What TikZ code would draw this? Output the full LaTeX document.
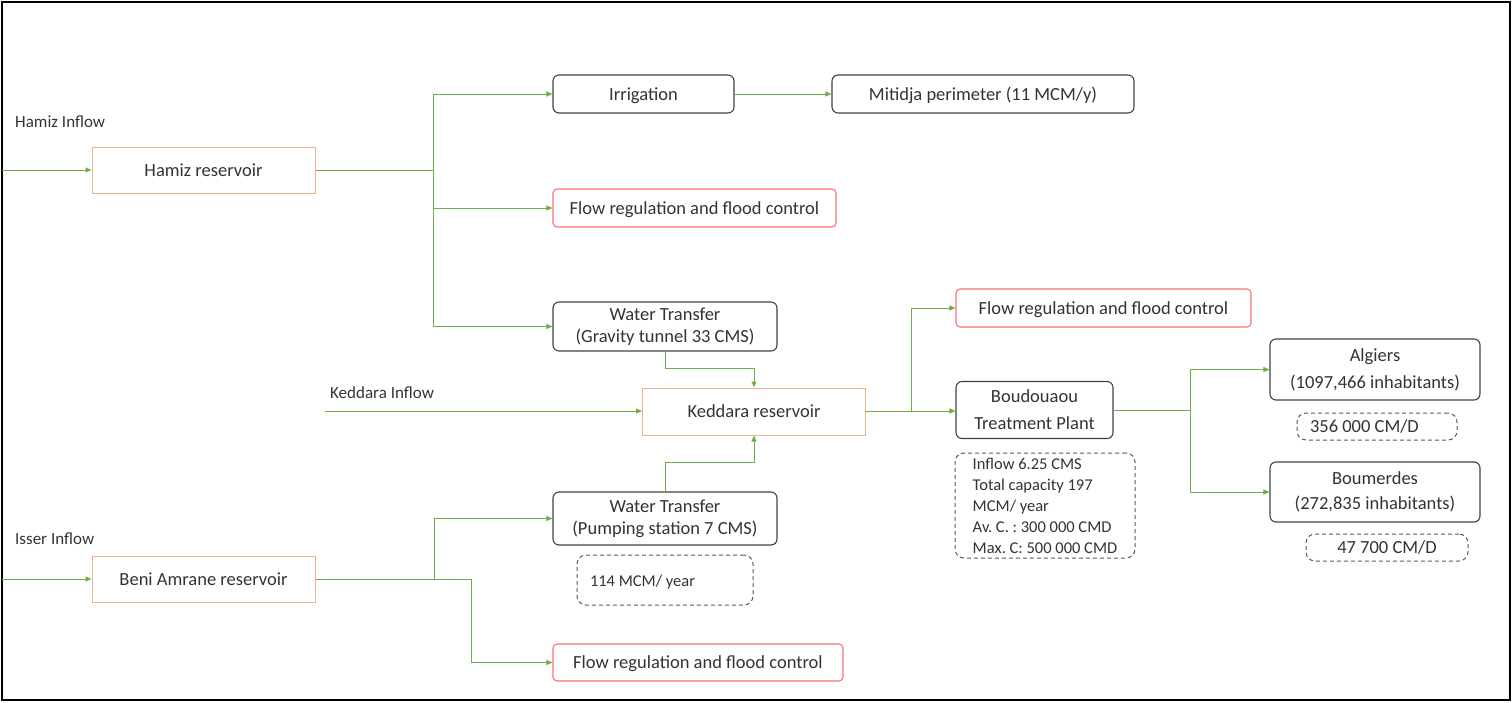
\documentclass[tikz,border=0pt]{standalone}
\usepackage{fontspec}
\setmainfont{Carlito}
\usetikzlibrary{arrows.meta}
\definecolor{flowgreen}{HTML}{70AD47}
\definecolor{resorange}{HTML}{F4B183}
\definecolor{regred}{HTML}{FF6F7A}
\definecolor{boxgray}{HTML}{404040}
\definecolor{dashgray}{HTML}{595959}
\tikzset{
  x=1pt, y=-1pt,
  every node/.style={font=\fontsize{18.5}{24}\selectfont\frenchspacing, text=black!80, inner sep=0pt, align=center},
  oneline/.style={text height=14pt, text depth=2pt},
  resbox/.style={draw=resorange, line width=1pt, rectangle, oneline},
  usebox/.style={draw=boxgray, line width=1.1pt, rounded corners=6pt},
  regbox/.style={draw=regred, line width=1.1pt, rounded corners=4pt, oneline},
  notebox/.style={draw=dashgray, line width=1pt, dashed, dash pattern=on 4pt off 3pt, rounded corners=9pt},
  flow/.style={draw=flowgreen, line width=1pt, -{Triangle[length=6pt,width=5pt]}},
  plainflow/.style={draw=flowgreen, line width=1pt},
  inlabel/.style={font=\fontsize{17}{20}\selectfont, anchor=west},
}
\begin{document}
\begin{tikzpicture}
\useasboundingbox (0,0) rectangle (1512,702);
\draw[line width=2pt, black] (2,2) rectangle (1510,700);

% nodes
\node[resbox, minimum width=223pt, minimum height=46pt] (hres) at (203.5,170) {Hamiz reservoir};
\node[usebox, oneline, minimum width=181pt, minimum height=38pt] (irr) at (643.5,94) {Irrigation};
\node[usebox, oneline, minimum width=302pt, minimum height=38pt] (mit) at (983,94) {Mitidja perimeter (11 MCM/y)};
\node[regbox, minimum width=283pt, minimum height=38pt] (fr1) at (694.5,208) {Flow regulation and flood control};
\node[usebox, minimum width=224pt, minimum height=49pt, font=\fontsize{18.5}{22}\selectfont] (wtg) at (665,326.5) {Water Transfer\\(Gravity tunnel 33 CMS)};
\node[resbox, minimum width=223pt, minimum height=47pt] (ked) at (754,411.5) {Keddara reservoir};
\node[regbox, minimum width=295pt, minimum height=38pt] (fr2) at (1103.5,308) {Flow regulation and flood control};
\node[usebox, minimum width=157pt, minimum height=57pt, font=\fontsize{18.5}{27}\selectfont] (bou) at (1034.5,410) {Boudouaou\\Treatment Plant};
\node[usebox, minimum width=210pt, minimum height=61pt, font=\fontsize{18.5}{27}\selectfont] (alg) at (1375,369.5) {Algiers\\(1097,466 inhabitants)};
\node[notebox, oneline, minimum width=160pt, minimum height=27pt] (algn) at (1377,426.5) {\makebox[134pt][l]{356 000 CM/D}};
\node[usebox, minimum width=210pt, minimum height=60pt, font=\fontsize{18.5}{25}\selectfont] (bmd) at (1375,492) {Boumerdes\\(272,835 inhabitants)};
\node[notebox, oneline, minimum width=162pt, minimum height=27pt] (bmdn) at (1387,547.5) {47 700 CM/D};
\node[notebox, minimum width=180pt, minimum height=105pt, align=left, font=\fontsize{16.5}{21}\selectfont\frenchspacing] (info) at (1045,505.5) {Inflow 6.25 CMS\\Total capacity 197\\MCM/ year\\Av. C. : 300 000 CMD\\Max. C: 500 000 CMD};
\node[resbox, minimum width=223pt, minimum height=46pt] (bres) at (203.5,579) {Beni Amrane reservoir};
\node[usebox, minimum width=224pt, minimum height=53pt, font=\fontsize{18.5}{22}\selectfont] (wtp) at (665,518.5) {Water Transfer\\(Pumping station 7 CMS)};
\node[notebox, oneline, minimum width=176pt, minimum height=50pt, font=\fontsize{16.5}{20}\selectfont] (mcm) at (665,580) {\makebox[150pt][l]{114 MCM/ year}};
\node[regbox, minimum width=290pt, minimum height=37pt] (fr3) at (698,662.5) {Flow regulation and flood control};

% inflow labels
\node[inlabel] (hin) at (15,122) {Hamiz Inflow};
\node[inlabel] (kin) at (330,393) {Keddara Inflow};
\node[inlabel] (iin) at (15,539) {Isser Inflow};

% free ends and junctions
\coordinate (hsrc) at (2,170);
\coordinate (ksrc) at (325,411);
\coordinate (isrc) at (2,579);
\coordinate (j1) at (433,170);
\coordinate (j2) at (911,411);
\coordinate (j3) at (1190,410);
\coordinate (j4) at (434,579);
\coordinate (j5) at (471,579);

% connectors
\draw[flow] (hsrc) -- (hres.west);
\draw[plainflow] (hres.east) -- (j1);
\draw[flow] (j1) |- (irr.west);
\draw[flow] (j1) |- (fr1.west);
\draw[flow] (j1) |- (wtg.west);
\draw[flow] (irr.east) -- (mit.west);

\draw[flow] (wtg.south) -- ++(0,17) -| (ked.north);
\draw[flow] (ksrc) -- (ked.west |- ksrc);
\draw[plainflow] (ked.east |- j2) -- (j2);
\draw[flow] (j2) |- (fr2.west);
\draw[flow] (j2) -- (bou.west |- j2);

\draw[plainflow] (bou.east) -- (j3);
\draw[flow] (j3) |- (alg.west);
\draw[flow] (j3) |- (bmd.west);

\draw[flow] (isrc) -- (bres.west);
\draw[plainflow] (bres.east) -- (j5);
\draw[flow] (j4) |- (wtp.west);
\draw[flow] (j5) |- (fr3.west);
\draw[flow] (wtp.north) -- ++(0,-29) -| (ked.south);
\end{tikzpicture}
\end{document}
